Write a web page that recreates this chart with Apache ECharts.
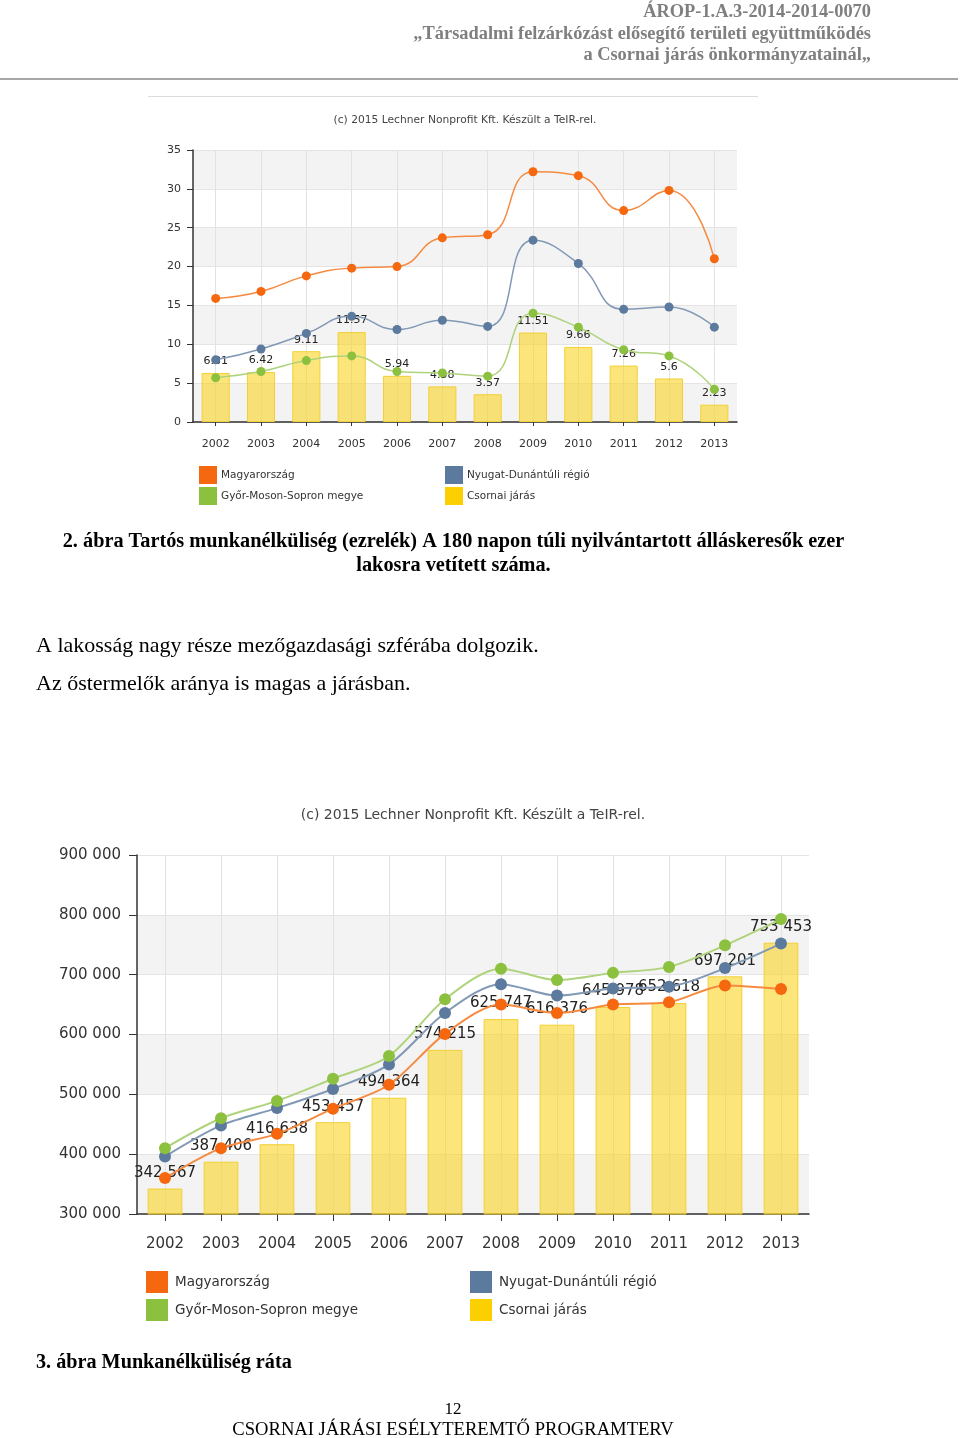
<!DOCTYPE html>
<html><head><meta charset="utf-8">
<script src="https://cdn.jsdelivr.net/npm/echarts@6/dist/echarts.min.js"></script>
<style>html,body{margin:0;padding:0;background:#fff}#c{width:960px;height:1438px}</style>
</head><body><div id="c"></div>
<script>
// ---- data ----
const years = ['2002','2003','2004','2005','2006','2007','2008','2009','2010','2011','2012','2013'];
const seriesNames = ['Magyarország','Nyugat-Dunántúli régió','Győr-Moson-Sopron megye','Csornai járás'];

// Chart 1: Tartós munkanélküliség (ezrelék)
const c1Hungary  = [15.9, 16.8, 18.8, 19.8, 20.0, 23.7, 24.1, 32.2, 31.7, 27.2, 29.8, 21.0];
const c1Region   = [8.0, 9.4, 11.4, 13.6, 11.9, 13.1, 12.3, 23.4, 20.4, 14.5, 14.8, 12.2];
const c1County   = [5.7, 6.5, 7.9, 8.5, 6.5, 6.3, 5.9, 14.0, 12.2, 9.3, 8.5, 4.2];
const c1District = [6.31, 6.42, 9.11, 11.57, 5.94, 4.58, 3.57, 11.51, 9.66, 7.26, 5.6, 2.23];

// Chart 2: Munkanélküliség ráta
const c2Hungary  = [360000, 410000, 434000, 476000, 516000, 601000, 650000, 636000, 650000, 654000, 682000, 676000];
const c2Region   = [396000, 448000, 477000, 509000, 550000, 636000, 684000, 665000, 677000, 680000, 711000, 752000];
const c2County   = [410000, 460000, 489000, 526000, 564000, 659000, 710000, 691000, 703000, 713000, 749000, 793000];
const c2District = [342567, 387406, 416638, 453457, 494364, 574215, 625747, 616376, 645978, 652618, 697201, 753453];

// ---- styling ----
const F = 'DejaVu Sans';
const SERIF = 'Liberation Serif';
const COL = {
  orange: '#f5680f', orangeLine: '#f58a40',
  blue: '#5c7a9d', blueLine: '#8299b6',
  green: '#8cc03f', greenLine: '#afd37c',
  yellow: '#fcd000'
};
const spaced = v => String(Math.round(v)).replace(/\B(?=(\d{3})+(?!\d))/g, ' ');

function lineSeries(name, data, color, lineColor, idx, symSize, lw, smooth) {
  return {
    type: 'line', name, data, xAxisIndex: idx, yAxisIndex: idx, z: 3,
    smooth, symbol: 'circle', symbolSize: symSize, showSymbol: true,
    itemStyle: { color, borderWidth: 0 },
    lineStyle: { color: lineColor, width: lw },
    emphasis: { disabled: true }, animation: false
  };
}
function barSeries(name, data, idx, fs, dist, fmt) {
  return {
    type: 'bar', name, data, xAxisIndex: idx, yAxisIndex: idx, z: 1, barWidth: '62%',
    itemStyle: { color: 'rgba(250,212,30,0.58)', borderColor: '#f2cf35', borderWidth: 1 },
    label: { show: true, position: 'top', distance: dist, fontFamily: F, fontSize: fs, color: '#222', formatter: fmt },
    emphasis: { disabled: true }, animation: false
  };
}
function catAxis(idx, fs, margin, tickLen) {
  return {
    type: 'category', gridIndex: idx, data: years, boundaryGap: true,
    axisLine: { lineStyle: { color: '#333', width: 1.5 } },
    axisTick: { show: true, alignWithLabel: true, length: tickLen, lineStyle: { color: '#333' } },
    axisLabel: { fontFamily: F, fontSize: fs, color: '#333', margin },
    splitLine: { show: true, alignWithLabel: true, lineStyle: { color: '#e2e2e2', width: 1 } }
  };
}
function valAxis(idx, min, max, interval, fs, margin, tickLen, fmt) {
  return {
    type: 'value', gridIndex: idx, min, max, interval,
    axisLine: { show: true, lineStyle: { color: '#333', width: 1.5 } },
    axisTick: { show: true, length: tickLen, lineStyle: { color: '#333' } },
    axisLabel: { fontFamily: F, fontSize: fs, color: '#333', margin, formatter: fmt },
    splitLine: { show: true, lineStyle: { color: '#e4e4e4' } },
    splitArea: { show: true, areaStyle: { color: ['#f3f3f3', '#ffffff'] } }
  };
}
function legend(left, top, data, size, gap, fs, textPad) {
  return {
    left, top, orient: 'vertical', icon: 'rect', itemWidth: size, itemHeight: size, itemGap: gap,
    padding: 0, selectedMode: false, data,
    itemStyle: { borderWidth: 0 },
    textStyle: { fontFamily: F, fontSize: fs, color: '#333', padding: [0, 0, 0, textPad] }
  };
}
function txt(x, y, text, opts) {
  return {
    type: 'text', x, y, silent: true,
    style: Object.assign({ text, align: 'left', verticalAlign: 'middle', fill: '#000', fontFamily: SERIF, fontSize: 18 }, opts || {})
  };
}

const chart = echarts.init(document.getElementById('c'), null, { renderer: 'canvas' });
chart.setOption({
  backgroundColor: '#ffffff',
  animation: false,
  grid: [
    { left: 193, top: 150, width: 544, height: 272 },
    { left: 137, top: 855, width: 672, height: 359 }
  ],
  xAxis: [catAxis(0, 11, 17, 4), catAxis(1, 15, 23, 7)],
  yAxis: [
    valAxis(0, 0, 35, 5, 11, 12, 6),
    valAxis(1, 300000, 900000, 100000, 15, 16, 8, spaced)
  ],
  legend: [
    legend(199, 466, [seriesNames[0], seriesNames[2]], 18, 3, 10.5, -1),
    legend(445, 466, [seriesNames[1], { name: seriesNames[3], itemStyle: { color: COL.yellow, borderWidth: 0 } }], 18, 3, 10.5, -1),
    legend(146, 1271, [seriesNames[0], seriesNames[2]], 22, 6, 13.5, 2),
    legend(470, 1271, [seriesNames[1], { name: seriesNames[3], itemStyle: { color: COL.yellow, borderWidth: 0 } }], 22, 6, 13.5, 2)
  ],
  series: [
    barSeries(seriesNames[3], c1District, 0, 11, 6, p => String(p.value)),
    lineSeries(seriesNames[0], c1Hungary, COL.orange, COL.orangeLine, 0, 9, 1.5, 0.5),
    lineSeries(seriesNames[1], c1Region, COL.blue, COL.blueLine, 0, 9, 1.5, 0.5),
    lineSeries(seriesNames[2], c1County, COL.green, COL.greenLine, 0, 9, 1.5, 0.5),
    barSeries(seriesNames[3], c2District, 1, 15, 8, p => spaced(p.value)),
    lineSeries(seriesNames[0], c2Hungary, COL.orange, COL.orangeLine, 1, 12, 2, 0.3),
    lineSeries(seriesNames[1], c2Region, COL.blue, COL.blueLine, 1, 12, 2, 0.3),
    lineSeries(seriesNames[2], c2County, COL.green, COL.greenLine, 1, 12, 2, 0.3)
  ],
  graphic: [
    // page header
    txt(871, 12, 'ÁROP-1.A.3-2014-2014-0070', { align: 'right', fontWeight: 'bold', fontSize: 18.4, fill: '#7f7f7f' }),
    txt(871, 34, '„Társadalmi felzárkózást elősegítő területi együttműködés', { align: 'right', fontWeight: 'bold', fontSize: 18.4, fill: '#7f7f7f' }),
    txt(871, 55, 'a Csornai járás önkormányzatainál„', { align: 'right', fontWeight: 'bold', fontSize: 18.4, fill: '#7f7f7f' }),
    { type: 'line', silent: true, shape: { x1: 0, y1: 79, x2: 958, y2: 79 }, style: { stroke: '#a6a6a6', lineWidth: 2 } },
    // chart 1 frame line + copyright
    { type: 'line', silent: true, shape: { x1: 148, y1: 96.5, x2: 758, y2: 96.5 }, style: { stroke: '#dcdcdc', lineWidth: 1 } },
    txt(465, 120, '(c) 2015 Lechner Nonprofit Kft. Készült a TeIR-rel.', { align: 'center', fontFamily: F, fontSize: 10.7, fill: '#444' }),
    // caption 2
    txt(453.5, 542, '2. ábra Tartós munkanélküliség (ezrelék) A 180 napon túli nyilvántartott álláskeresők ezer', { align: 'center', fontWeight: 'bold', fontSize: 20.3 }),
    txt(453.5, 566, 'lakosra vetített száma.', { align: 'center', fontWeight: 'bold', fontSize: 20.3 }),
    // body text
    txt(36, 646, 'A lakosság nagy része mezőgazdasági szférába dolgozik.', { fontSize: 22 }),
    txt(36, 684, 'Az őstermelők aránya is magas a járásban.', { fontSize: 22 }),
    // chart 2 copyright
    txt(473, 815, '(c) 2015 Lechner Nonprofit Kft. Készült a TeIR-rel.', { align: 'center', fontFamily: F, fontSize: 14, fill: '#444' }),
    // caption 3
    txt(36, 1363, '3. ábra Munkanélküliség ráta', { fontWeight: 'bold', fontSize: 20.2 }),
    // footer
    txt(453, 1410, '12', { align: 'center', fontSize: 17 }),
    txt(453, 1430, 'CSORNAI JÁRÁSI ESÉLYTEREMTŐ PROGRAMTERV', { align: 'center', fontSize: 18.6 })
  ]
});
</script>
</body></html>
